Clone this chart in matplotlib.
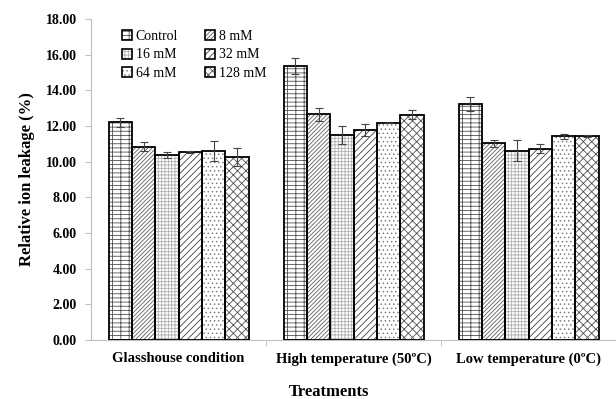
import matplotlib
matplotlib.use("Agg")
import matplotlib.pyplot as plt
import numpy as np
from matplotlib.patches import Patch
from matplotlib.legend_handler import HandlerTuple

categories = ["Glasshouse condition", "High temperature (50ºC)", "Low temperature (0ºC)"]
series = ["Control", "8 mM", "16 mM", "32 mM", "64 mM", "128 mM"]
control = [12.2, 15.35, 13.25]
mm8 = [10.85, 12.65, 11.02]
mm16 = [10.38, 11.5, 10.62]
mm32 = [10.55, 11.78, 10.72]
mm64 = [10.6, 12.15, 11.42]
mm128 = [10.27, 12.62, 11.42]
err_control = [0.25, 0.45, 0.4]
err_8 = [0.25, 0.38, 0.17]
err_16 = [0.15, 0.5, 0.6]
err_32 = [0.05, 0.36, 0.25]
err_64 = [0.55, 0.0, 0.15]
err_128 = [0.5, 0.25, 0.05]
yticks = [0, 2, 4, 6, 8, 10, 12, 14, 16, 18]

values = [control, mm8, mm16, mm32, mm64, mm128]
errors = [err_control, err_8, err_16, err_32, err_64, err_128]
hatches = ["----||", "////////", "+++++", "/////", "....", "xxxx"]
hatch_colors = ["#505050", "#606060", "#b0b0b0", "#404040", "#808080", "#505050"]

plt.rcParams["font.family"] = ["Liberation Serif", "DejaVu Serif"]
plt.rcParams["hatch.linewidth"] = 0.6

fig = plt.figure(figsize=(6.16, 3.99), dpi=100)
ax = fig.add_axes([91/616, 1-340/399, 528/616, 321/399])

x = np.arange(len(categories))
width = 0.8 / len(series)
handles = []
for i, (vals, errs) in enumerate(zip(values, errors)):
    pos = x - 0.4 + width * (i + 0.5)
    ax.bar(pos, vals, width, color="white", edgecolor=hatch_colors[i],
           hatch=hatches[i], linewidth=0, zorder=2)
    ax.bar(pos, vals, width, color="none", edgecolor="black", linewidth=1.3, zorder=3)
    ax.errorbar(pos, vals, yerr=errs, fmt="none", ecolor="#444444",
                elinewidth=0.8, capsize=3, capthick=0.8, zorder=4)
    handles.append((Patch(facecolor="white", edgecolor=hatch_colors[i], hatch=hatches[i], linewidth=0),
                    Patch(facecolor="none", edgecolor="black", linewidth=1.2)))

# legend is filled row-wise in the reference: reorder for column-wise filling
order = [0, 2, 4, 1, 3, 5]
leg_handles = [handles[k] for k in order]
leg_labels = [series[k] for k in order]

ax.set_xlim(-0.5, 2.5 + 3/176)
ax.set_ylim(0, 18)
ax.set_yticks(yticks)
ax.set_yticklabels([f"{v:.2f}" for v in yticks], fontweight="bold", fontsize=10)
ax.set_xticks(x)
ax.set_xticklabels(categories, fontweight="bold", fontsize=10.5)
ax.set_xticks([0.5, 1.5], minor=True)
ax.tick_params(axis="x", which="major", length=0, pad=9)
ax.tick_params(axis="x", which="minor", length=4, color="#bfbfbf")
ax.tick_params(axis="y", length=4, color="#bfbfbf", pad=6)
for s in ["top", "right"]:
    ax.spines[s].set_visible(False)
for s in ["left", "bottom"]:
    ax.spines[s].set_color("#bfbfbf")

ax.set_ylabel("Relative ion leakage (%)", fontweight="bold", fontsize=12, labelpad=8)
fig.text(329/616, 1-392/399, "Treatments", ha="center", va="center",
         fontweight="bold", fontsize=12)

ax.legend(handles=leg_handles, labels=leg_labels, ncol=2, loc="upper left",
          bbox_to_anchor=(0.035, 1.005), frameon=False, fontsize=10,
          handlelength=0.75, handleheight=0.75, handletextpad=0.25,
          columnspacing=1.9, labelspacing=0.4,
          handler_map={tuple: HandlerTuple(ndivide=1, pad=0)})

fig.savefig("out.png", dpi=100)
